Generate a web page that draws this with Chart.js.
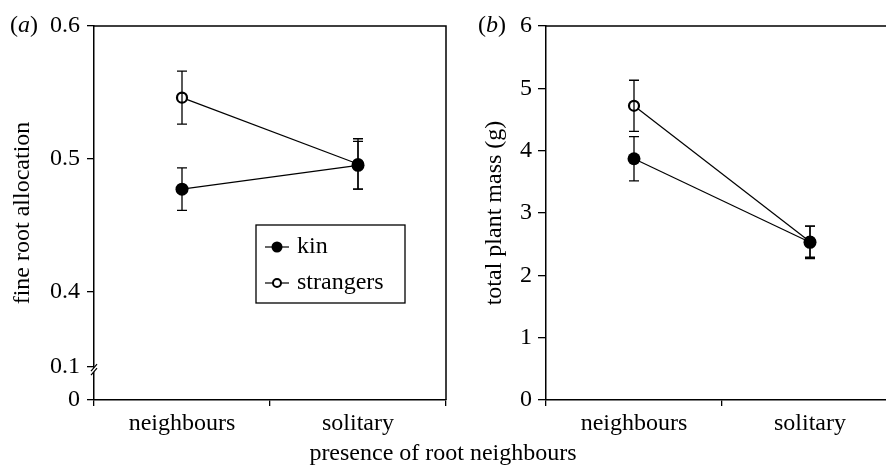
<!DOCTYPE html>
<html>
<head>
<meta charset="utf-8">
<script src="https://cdn.jsdelivr.net/npm/chart.js@4.4.0/dist/chart.umd.min.js"></script>
<style>
  html, body { margin: 0; padding: 0; background: #fff; overflow: hidden; width: 886px; height: 466px; }
  .panel { position: absolute; top: 0; height: 440px; width: 460px; }
  #wrapA { left: 0; }
  #wrapB { left: 460px; }
  .lbl { position: absolute; font-family: 'Liberation Serif', 'Times New Roman', serif; font-size: 24px; color: #000; white-space: nowrap; line-height: 26px; }
</style>
</head>
<body>
<div class="panel" id="wrapA"><canvas id="chartA"></canvas></div>
<div class="panel" id="wrapB"><canvas id="chartB"></canvas></div>
<div class="lbl" style="left:10px; top:11px;">(<i>a</i>)</div>
<div class="lbl" style="left:478px; top:11px;">(<i>b</i>)</div>
<div class="lbl" style="left:443px; top:439px; transform:translateX(-50%);">presence of root neighbours</div>
<script>
// data
const categories = ['neighbours', 'solitary'];
const seriesNames = ['kin', 'strangers'];

const rootKin = [0.477, 0.495];
const rootKinErr = [0.016, 0.018];
const rootStr = [0.546, 0.496];
const rootStrErr = [0.020, 0.019];

const massKin = [3.87, 2.53];
const massKinErr = [0.355, 0.26];
const massStr = [4.72, 2.54];
const massStrErr = [0.41, 0.25];

const rootTicks = [0, 0.1, 0.4, 0.5, 0.6];
const rootTickLabels = ['0', '0.1', '0.4', '0.5', '0.6'];
const massTicks = [0, 1, 2, 3, 4, 5, 6];

// broken axis: below 0.4 the scale is squeezed
function toAxis(v) {
  if (v >= 0.4) return v;
  if (v >= 0.1) return 0.4 - (0.4 - v) * 0.0571 / 0.3;
  return 0.3429 - (0.1 - v) * 0.0248 / 0.1;
}

const serif = "'Liberation Serif', 'Times New Roman', serif";
const font = { family: serif, size: 24 };
Chart.defaults.color = '#000';
Chart.defaults.font.family = serif;

function kinSet(data, errs) {
  return {
    label: seriesNames[0], data: data, errs: errs,
    borderColor: '#000', borderWidth: 1.2, backgroundColor: '#000',
    pointRadius: 6.5, pointBorderWidth: 0, pointBackgroundColor: '#000'
  };
}
function strSet(data, errs) {
  return {
    label: seriesNames[1], data: data, errs: errs,
    borderColor: '#000', borderWidth: 1.2, backgroundColor: '#fff',
    pointRadius: 5, pointBorderWidth: 2.2, pointBackgroundColor: '#fff', pointBorderColor: '#000'
  };
}

const errorBars = {
  id: 'errorBars',
  afterDatasetsDraw(chart) {
    const ctx = chart.ctx;
    const y = chart.scales.y;
    ctx.save();
    ctx.strokeStyle = '#000';
    ctx.lineWidth = 1.3;
    chart.data.datasets.forEach((ds, di) => {
      const meta = chart.getDatasetMeta(di);
      ds.data.forEach((v, i) => {
        const px = meta.data[i].x;
        const top = y.getPixelForValue(v + ds.errs[i]);
        const bot = y.getPixelForValue(v - ds.errs[i]);
        ctx.beginPath();
        ctx.moveTo(px, top); ctx.lineTo(px, bot);
        ctx.moveTo(px - 5, top); ctx.lineTo(px + 5, top);
        ctx.moveTo(px - 5, bot); ctx.lineTo(px + 5, bot);
        ctx.stroke();
      });
    });
    ctx.restore();
  }
};

const frame = {
  id: 'frame',
  afterDraw(chart) {
    const a = chart.chartArea, ctx = chart.ctx;
    ctx.save();
    ctx.strokeStyle = '#000';
    ctx.lineWidth = 1.5;
    ctx.beginPath();
    ctx.moveTo(a.left, a.top); ctx.lineTo(a.right, a.top); ctx.lineTo(a.right, a.bottom);
    ctx.stroke();
    ctx.restore();
  }
};

const axisBreak = {
  id: 'axisBreak',
  afterDraw(chart) {
    const ctx = chart.ctx, y = chart.scales.y;
    const x0 = chart.chartArea.left;
    const py = y.getPixelForValue(toAxis(0.1));
    ctx.save();
    ctx.fillStyle = '#fff';
    ctx.beginPath();
    ctx.moveTo(x0 - 3, py + 4); ctx.lineTo(x0 + 3, py - 3);
    ctx.lineTo(x0 + 3, py + 1); ctx.lineTo(x0 - 3, py + 8);
    ctx.closePath(); ctx.fill();
    ctx.strokeStyle = '#000'; ctx.lineWidth = 1.2;
    ctx.beginPath();
    ctx.moveTo(x0 - 3, py + 4); ctx.lineTo(x0 + 3, py - 3);
    ctx.moveTo(x0 - 3, py + 8); ctx.lineTo(x0 + 3, py + 1);
    ctx.stroke();
    ctx.restore();
  }
};

const boxLegend = {
  id: 'boxLegend',
  afterDraw(chart) {
    const ctx = chart.ctx, a = chart.chartArea;
    const left = a.left + 162, top = a.top + 199, w = 149, h = 78;
    ctx.save();
    ctx.fillStyle = '#fff';
    ctx.fillRect(left, top, w, h);
    ctx.strokeStyle = '#000'; ctx.lineWidth = 1.3;
    ctx.strokeRect(left, top, w, h);
    chart.data.datasets.forEach((ds, i) => {
      const cy = top + 22 + i * 36;
      ctx.beginPath();
      ctx.moveTo(left + 9, cy); ctx.lineTo(left + 33, cy);
      ctx.lineWidth = 1.2; ctx.stroke();
      ctx.beginPath();
      ctx.arc(left + 21, cy, i === 0 ? 5.5 : 4, 0, Math.PI * 2);
      ctx.fillStyle = i === 0 ? '#000' : '#fff';
      ctx.fill();
      if (i === 1) { ctx.lineWidth = 2; ctx.stroke(); }
      ctx.fillStyle = '#000';
      ctx.font = '24px ' + serif;
      ctx.textBaseline = 'middle';
      ctx.fillText(ds.label, left + 41, cy);
    });
    ctx.restore();
  }
};

function xScale() {
  return {
    type: 'category',
    offset: true,
    grid: { offset: true, drawOnChartArea: false, tickLength: 6, color: '#000', lineWidth: 1.3 },
    border: { color: '#000', width: 1.5 },
    ticks: { font: font, padding: 3, color: '#000' },
    afterFit: s => { s.height = 40; }
  };
}

new Chart(document.getElementById('chartA'), {
  type: 'line',
  data: {
    labels: categories,
    datasets: [kinSet(rootKin, rootKinErr), strSet(rootStr, rootStrErr)]
  },
  options: {
    responsive: true, maintainAspectRatio: false, animation: false, events: [],
    layout: { padding: { top: 26, right: 14, left: 0, bottom: 0 } },
    plugins: { legend: { display: false }, tooltip: { enabled: false } },
    scales: {
      x: xScale(),
      y: {
        type: 'linear',
        min: toAxis(0), max: 0.6,
        afterBuildTicks: s => { s.ticks = rootTicks.map(v => ({ value: toAxis(v) })); },
        ticks: { font: font, padding: 7, color: '#000', callback: (v, i) => rootTickLabels[i] },
        grid: { drawOnChartArea: false, tickLength: 7, color: '#000', lineWidth: 1.3 },
        border: { color: '#000', width: 1.5 },
        title: { display: true, text: 'fine root allocation', font: font, padding: { top: 8, bottom: 0 } },
        afterFit: s => { s.width = 94; }
      }
    }
  },
  plugins: [errorBars, frame, axisBreak, boxLegend]
});

new Chart(document.getElementById('chartB'), {
  type: 'line',
  data: {
    labels: categories,
    datasets: [kinSet(massKin, massKinErr), strSet(massStr, massStrErr)]
  },
  options: {
    responsive: true, maintainAspectRatio: false, animation: false, events: [],
    layout: { padding: { top: 26, right: 22, left: 0, bottom: 0 } },
    plugins: { legend: { display: false }, tooltip: { enabled: false } },
    scales: {
      x: xScale(),
      y: {
        type: 'linear',
        min: 0, max: 6,
        afterBuildTicks: s => { s.ticks = massTicks.map(v => ({ value: v })); },
        ticks: { font: font, padding: 6, color: '#000' },
        grid: { drawOnChartArea: false, tickLength: 8, color: '#000', lineWidth: 1.3 },
        border: { color: '#000', width: 1.5 },
        title: { display: true, text: 'total plant mass (g)', font: font, padding: { top: 20, bottom: 0 } },
        afterFit: s => { s.width = 86; }
      }
    }
  },
  plugins: [errorBars, frame]
});
</script>
</body>
</html>
